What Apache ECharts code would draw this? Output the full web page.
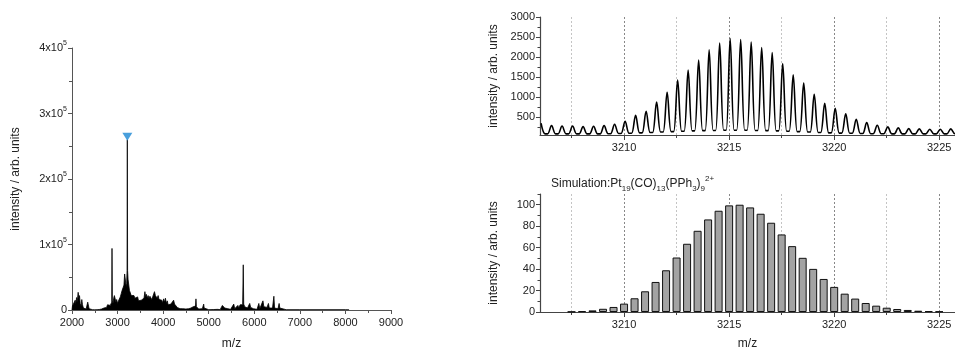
<!DOCTYPE html>
<html>
<head>
<meta charset="utf-8">
<script src="https://cdn.jsdelivr.net/npm/echarts@6/dist/echarts.min.js"></script>
<style>
  html, body { margin: 0; padding: 0; background: #fff; }
  #chart { width: 955px; height: 356px; }
</style>
</head>
<body>
<div id="chart"></div>
<script>
// full spectrum (left)
const specMz = [2000, 2010, 2030, 2050, 2070, 2085, 2100, 2115, 2135, 2150, 2165, 2180, 2200, 2215, 2230, 2250, 2270, 2290, 2310, 2330, 2345, 2360, 2375, 2400, 2450, 2500, 2550, 2600, 2650, 2700, 2720, 2740, 2760, 2780, 2800, 2820, 2840, 2860, 2872, 2878, 2885, 2900, 2915, 2930, 2950, 2965, 2980, 3000, 3020, 3040, 3060, 3080, 3100, 3120, 3140, 3155, 3170, 3190, 3200, 3208, 3214, 3220, 3230, 3245, 3260, 3280, 3300, 3320, 3340, 3360, 3380, 3400, 3420, 3440, 3460, 3480, 3500, 3520, 3540, 3560, 3580, 3600, 3615, 3630, 3650, 3670, 3690, 3710, 3730, 3750, 3770, 3790, 3810, 3830, 3850, 3870, 3890, 3910, 3930, 3950, 3970, 3990, 4010, 4030, 4050, 4070, 4090, 4110, 4130, 4150, 4170, 4190, 4210, 4230, 4250, 4270, 4290, 4310, 4330, 4350, 4370, 4400, 4430, 4450, 4470, 4500, 4520, 4540, 4560, 4580, 4610, 4640, 4660, 4690, 4710, 4720, 4730, 4750, 4780, 4820, 4860, 4890, 4900, 4930, 5000, 5100, 5200, 5250, 5280, 5300, 5320, 5350, 5380, 5420, 5450, 5480, 5520, 5550, 5570, 5600, 5640, 5660, 5690, 5710, 5730, 5745, 5758, 5768, 5790, 5810, 5830, 5850, 5880, 5900, 5920, 5950, 5980, 6020, 6060, 6100, 6120, 6150, 6190, 6210, 6250, 6280, 6310, 6330, 6360, 6400, 6430, 6445, 6480, 6520, 6545, 6560, 6590, 6700, 7000, 8000, 8080, 8081];
const specInt = [0, 6000, 9000, 5000, 15000, 9000, 19000, 12000, 27000, 18000, 22000, 10000, 6000, 16000, 8000, 3000, 2000, 1000, 1500, 3000, 12000, 11000, 2000, 1000, 500, 300, 500, 800, 1500, 3000, 1500, 5000, 4000, 8000, 6000, 8000, 7000, 10000, 12000, 94000, 15000, 10000, 18000, 22000, 21000, 12000, 16000, 10000, 14000, 12000, 20000, 25000, 30000, 34000, 38000, 55000, 56000, 35000, 40000, 60000, 260000, 60000, 47000, 48000, 30000, 28000, 22000, 24000, 20000, 22000, 18000, 21000, 16000, 20000, 14000, 17000, 12000, 15000, 12000, 14000, 18000, 28000, 20000, 24000, 18000, 22000, 17000, 21000, 19000, 16000, 20000, 18000, 28000, 22000, 25000, 18000, 22000, 16000, 18000, 13000, 15000, 11000, 17000, 12000, 18000, 10000, 14000, 8000, 11000, 7000, 9000, 6000, 8000, 15000, 9000, 6000, 7000, 4000, 6000, 3000, 2000, 1000, 2000, 5000, 1000, 1500, 1000, 4000, 2000, 1000, 3000, 6000, 5000, 3000, 6000, 17000, 5000, 3000, 1500, 1000, 2000, 9000, 3000, 1000, 500, 700, 1000, 500, 3000, 7000, 5000, 3000, 1000, 2000, 3000, 1000, 4000, 9000, 2000, 4000, 7000, 3000, 8000, 5000, 9000, 8000, 69000, 9000, 5000, 3000, 5000, 3000, 1000, 10000, 4000, 6000, 2000, 3000, 1000, 10000, 2000, 3000, 14000, 5000, 2000, 4000, 10000, 3000, 2000, 3000, 21000, 3000, 2000, 2000, 10000, 3000, 800, 500, 500, 500, 500, 0];
const markedPeak = [3215, 260000];

// measured isotope pattern (top right)
const peakMz = [3206.05, 3206.55, 3207.05, 3207.55, 3208.05, 3208.55, 3209.05, 3209.55, 3210.05, 3210.55, 3211.05, 3211.55, 3212.05, 3212.55, 3213.05, 3213.55, 3214.05, 3214.55, 3215.05, 3215.55, 3216.05, 3216.55, 3217.05, 3217.55, 3218.05, 3218.55, 3219.05, 3219.55, 3220.05, 3220.55, 3221.05, 3221.55, 3222.05, 3222.55, 3223.05, 3223.55, 3224.05, 3224.55, 3225.05, 3225.55];
const peakInt = [350, 290, 280, 280, 265, 275, 290, 325, 400, 550, 650, 880, 1125, 1430, 1680, 1925, 2180, 2350, 2465, 2440, 2375, 2240, 2115, 1840, 1560, 1350, 1075, 850, 725, 585, 450, 365, 300, 260, 235, 215, 210, 200, 200, 210];
const valleyInt = [85, 85, 85, 85, 85, 85, 90, 95, 100, 110, 120, 130, 140, 150, 160, 165, 170, 175, 175, 175, 170, 165, 160, 150, 140, 130, 120, 110, 105, 100, 95, 90, 88, 85, 85, 85, 85, 85, 85, 90];

// simulated pattern (bottom right)
const simMz = [3207.5, 3208, 3208.5, 3209, 3209.5, 3210, 3210.5, 3211, 3211.5, 3212, 3212.5, 3213, 3213.5, 3214, 3214.5, 3215, 3215.5, 3216, 3216.5, 3217, 3217.5, 3218, 3218.5, 3219, 3219.5, 3220, 3220.5, 3221, 3221.5, 3222, 3222.5, 3223, 3223.5, 3224, 3224.5, 3225];
const simInt = [0.3, 0.8, 1.5, 3, 4.7, 7.8, 12.8, 19.3, 28, 38.9, 50.8, 63.6, 75.7, 86.3, 94.4, 99.4, 100, 97.5, 91.6, 83.2, 72.3, 61.4, 50.5, 40.2, 30.8, 23.4, 17.1, 12.5, 8.4, 5.9, 4, 2.8, 1.9, 1.2, 0.8, 0.5];

const zoomMajor = [3210, 3215, 3220, 3225];
const zoomMinor = [3207.5, 3212.5, 3217.5, 3222.5];
const topLabels = [500, 1000, 1500, 2000, 2500, 3000];
const topMinor = [250, 750, 1250, 1750, 2250, 2750];
const simLabels = [0, 20, 40, 60, 80, 100];
const simMinor = [10, 30, 50, 70, 90, 110];

const FONT = "'Liberation Sans', Arial, sans-serif";
const TXT = "#222";
const AX = "#444";
const plain = (v) => String(v);

const spectrumData = specMz.map((m, i) => [m, specInt[i]]);

const profileData = [];
peakMz.forEach((m, i) => {
  profileData.push([m, peakInt[i]]);
  profileData.push([m + 0.19, valleyInt[i]]);
  profileData.push([m + 0.31, valleyInt[i]]);
});

const simData = simMz.map((m, i) => [m, simInt[i]]);

const gridLines = (gi) => ({
  type: "line",
  xAxisIndex: gi,
  yAxisIndex: gi,
  data: [],
  silent: true,
  markLine: {
    silent: true,
    symbol: "none",
    z: 1,
    label: { show: false },
    data: zoomMajor.map((v) => ({ xAxis: v, lineStyle: { color: "#888", type: [2, 2], width: 1 } }))
      .concat(zoomMinor.map((v) => ({ xAxis: v, lineStyle: { color: "#c4c4c4", type: [2, 2], width: 1 } }))),
  },
});

const zoomX = (gridIndex, major) => ({
  type: "value",
  gridIndex,
  position: "bottom",
  min: 3206,
  max: 3225.75,
  axisLine: { show: major, lineStyle: { color: AX, width: 1.2 } },
  axisTick: { show: true, length: major ? 5 : 3, lineStyle: { color: AX }, customValues: major ? zoomMajor : zoomMinor },
  axisLabel: { show: major, customValues: zoomMajor, formatter: plain, color: TXT, fontSize: 11, fontFamily: FONT, margin: 7 },
  splitLine: { show: false },
});

const zoomY = (gridIndex, min, max, values, major) => ({
  type: "value",
  gridIndex,
  position: "left",
  min,
  max,
  axisLine: { show: major, lineStyle: { color: AX, width: 1.2 } },
  axisTick: { show: true, length: major ? 4 : 2.5, lineStyle: { color: AX }, customValues: values },
  axisLabel: { show: major, customValues: values, formatter: plain, color: TXT, fontSize: 11, margin: 5, fontFamily: FONT },
  splitLine: { show: false },
});

const yName = {
  name: "intensity / arb. units",
  nameLocation: "middle",
  nameGap: 40,
  nameTextStyle: { fontSize: 12, color: TXT, fontFamily: FONT },
};

const chart = echarts.init(document.getElementById("chart"));

chart.setOption({
  animation: false,
  textStyle: { fontFamily: FONT },
  title: {
    text: "Simulation:Pt{sub|19}(CO){sub|13}(PPh{sub|3}){sub|9}{sup|2+}",
    left: 546,
    top: 170,
    textStyle: {
      fontSize: 12,
      fontWeight: "normal",
      color: TXT,
      fontFamily: FONT,
      lineHeight: 18,
      rich: {
        sub: { fontSize: 8, lineHeight: 9, verticalAlign: "bottom", color: TXT, fontFamily: FONT },
        sup: { fontSize: 8, lineHeight: 9, verticalAlign: "top", color: TXT, fontFamily: FONT },
      },
    },
  },
  grid: [
    { left: 72, top: 48, width: 319, height: 262 },
    { left: 540, top: 17, width: 415, height: 118 },
    { left: 540, top: 194, width: 415, height: 118 },
  ],
  xAxis: [
    {
      type: "value",
      gridIndex: 0,
      min: 2000,
      max: 9000,
      interval: 1000,
      name: "m/z",
      nameLocation: "middle",
      nameGap: 28,
      nameTextStyle: { fontSize: 12, color: TXT, fontFamily: FONT },
      axisLine: { lineStyle: { color: "#555" } },
      axisTick: { length: 4, lineStyle: { color: "#555" } },
      minorTick: { show: true, splitNumber: 2, length: 3, lineStyle: { color: "#555" } },
      axisLabel: { color: TXT, fontSize: 11, margin: 7, fontFamily: FONT, formatter: plain },
      splitLine: { show: false },
    },
    zoomX(1, true),
    zoomX(1, false),
    Object.assign(zoomX(2, true), {
      name: "m/z",
      nameLocation: "middle",
      nameGap: 26,
      nameTextStyle: { fontSize: 12, color: TXT, fontFamily: FONT },
    }),
    zoomX(2, false),
  ],
  yAxis: [
    {
      type: "value",
      gridIndex: 0,
      min: 0,
      max: 400000,
      interval: 100000,
      name: "intensity / arb. units",
      nameLocation: "middle",
      nameGap: 50,
      nameTextStyle: { fontSize: 12, color: TXT, fontFamily: FONT },
      axisLine: { show: true, lineStyle: { color: "#555" } },
      axisTick: { show: true, length: 4, lineStyle: { color: "#555" } },
      minorTick: { show: true, splitNumber: 2, length: 3, lineStyle: { color: "#555" } },
      axisLabel: {
        color: TXT,
        fontSize: 11,
        margin: 5,
        formatter: (v) => (v === 0 ? "0" : "{b|" + v / 100000 + "x10}{s|5}"),
        rich: {
          b: { fontSize: 11, lineHeight: 16, color: TXT, fontFamily: FONT },
          s: { fontSize: 7, lineHeight: 8, verticalAlign: "top", color: TXT, fontFamily: FONT },
        },
      },
      splitLine: { show: false },
    },
    Object.assign(zoomY(1, 57, 3000, topLabels, true), yName),
    zoomY(1, 57, 3000, topMinor, false),
    Object.assign(zoomY(2, 0, 110, simLabels, true), yName),
    zoomY(2, 0, 110, simMinor, false),
  ],
  series: [
    {
      type: "line",
      xAxisIndex: 0,
      yAxisIndex: 0,
      data: spectrumData,
      showSymbol: false,
      sampling: false,
      lineStyle: { color: "#000", width: 0.8 },
      areaStyle: { color: "#000", opacity: 1 },
      z: 3,
    },
    {
      type: "scatter",
      xAxisIndex: 0,
      yAxisIndex: 0,
      data: [markedPeak],
      symbol: "triangle",
      symbolRotate: 180,
      symbolSize: [10, 8],
      symbolOffset: [0, -3],
      itemStyle: { color: "#1b87d3" },
      z: 5,
    },
    gridLines(1),
    {
      type: "line",
      xAxisIndex: 1,
      yAxisIndex: 1,
      data: profileData,
      showSymbol: false,
      smooth: 0.35,
      lineStyle: { color: "#000", width: 1.6 },
      z: 3,
    },
    gridLines(3),
    {
      type: "bar",
      xAxisIndex: 3,
      yAxisIndex: 3,
      data: simData,
      barWidth: 8,
      itemStyle: { color: "#a3a3a3", borderColor: "#111", borderWidth: 1 },
      z: 3,
    },
  ],
});
</script>
</body>
</html>
